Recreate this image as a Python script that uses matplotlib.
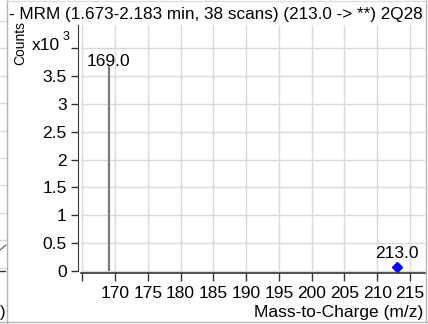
import numpy as np
import matplotlib.pyplot as plt
from matplotlib.lines import Line2D
from matplotlib.ticker import FixedLocator, FuncFormatter

plt.rcParams['font.family'] = ['Liberation Sans', 'DejaVu Sans']

# Spectrum data
title = '- MRM (1.673-2.183 min, 38 scans) (213.0 -> **) 2Q28'
peak_mz = [169.0]
peak_counts = [3700]
precursor_mz = [213.0]
precursor_counts = [72]
y_ticks = [0, 500, 1000, 1500, 2000, 2500, 3000, 3500, 4000]
x_ticks = [165, 170, 175, 180, 185, 190, 195, 200, 205, 210, 215]

W, H = 428, 324
fig = plt.figure(figsize=(W / 100, H / 100), dpi=100, facecolor='white')

def fx(px):
    return px / W

def fy(py):
    return 1 - py / H

ax = fig.add_axes([fx(81), fy(273), fx(425) - fx(81), fy(25) - fy(273)])
ax.set_xlim(164.8, 217.3)
ax.set_ylim(-36, 4416)

# gridlines
ax.xaxis.set_major_locator(FixedLocator(x_ticks))
ax.yaxis.set_major_locator(FixedLocator(y_ticks))
ax.grid(True, color='#d9d9d9', linewidth=1.0)
ax.set_axisbelow(True)

ax.yaxis.set_major_formatter(FuncFormatter(
    lambda v, p: '' if v >= 4000 else '%g' % (v / 1000)))
ax.xaxis.set_major_formatter(FuncFormatter(
    lambda v, p: '' if v <= 165 else '%d' % v))

for s in ['top', 'right']:
    ax.spines[s].set_visible(False)
ax.spines['left'].set_position(('outward', 2.2))
ax.spines['left'].set_bounds(0, 4416)
ax.spines['left'].set_color('#333333')
ax.spines['bottom'].set_color('#333333')
ax.spines['bottom'].set_linewidth(1.2)
ax.tick_params(axis='y', length=5, width=1, color='#333333', pad=3,
               labelsize=12.5, labelcolor='black')
ax.tick_params(axis='x', length=6, width=1, color='#333333', pad=3,
               labelsize=12.5, labelcolor='black')

# product ion peak
ax.vlines(peak_mz, 0, peak_counts, color='#7a7a7a', linewidth=1.6)
for m, c in zip(peak_mz, peak_counts):
    ax.annotate('%.1f' % m, xy=(m, c), xytext=(0, -0.5), textcoords='offset points',
                ha='center', va='baseline', fontsize=12.5)

# precursor marker
ax.plot(precursor_mz, precursor_counts, linestyle='none', marker='D',
        markersize=5.5, color='#0000ff')
for m, c in zip(precursor_mz, precursor_counts):
    ax.annotate('%.1f' % m, xy=(m, c), xytext=(0, 6.5), textcoords='offset points',
                ha='center', va='baseline', fontsize=12.5)

# titles and axis captions
fig.text(fx(9), fy(14), title, ha='left', va='center', fontsize=12.3)
fig.text(fx(20), fy(43), 'Counts', rotation=90, ha='center', va='center', fontsize=10)
fig.text(fx(32), fy(50), 'x10', ha='left', va='baseline', fontsize=12.5)
fig.text(fx(63), fy(40), '3', ha='left', va='baseline', fontsize=9)
fig.text(fx(423), fy(312), 'Mass-to-Charge (m/z)', ha='right', va='center', fontsize=12.5)

# neighbouring panel sliver on the left
for py in np.arange(21, 268, 27.4):
    fig.add_artist(Line2D([0, fx(7)], [fy(py), fy(py)], color='#d9d9d9', lw=1))
fig.add_artist(Line2D([fx(0), fx(6)], [fy(250), fy(245)], color='#555555', lw=0.8))
fig.add_artist(Line2D([0, fx(5)], [fy(271), fy(271)], color='#333333', lw=1))
fig.text(fx(0), fy(313), ')', ha='left', va='center', fontsize=12)

# panel borders
fig.add_artist(Line2D([fx(7.5), fx(7.5)], [0, 1], color='#b4b4b4', lw=1))
fig.add_artist(Line2D([fx(426), fx(426)], [fy(322), 1], color='#b4b4b4', lw=1))
fig.add_artist(Line2D([0, 1], [fy(322), fy(322)], color='#b4b4b4', lw=1))
fig.add_artist(Line2D([fx(7.5), 1], [fy(0.5), fy(0.5)], color='#dddddd', lw=1))

fig.savefig('out.png', dpi=100, facecolor='white')
